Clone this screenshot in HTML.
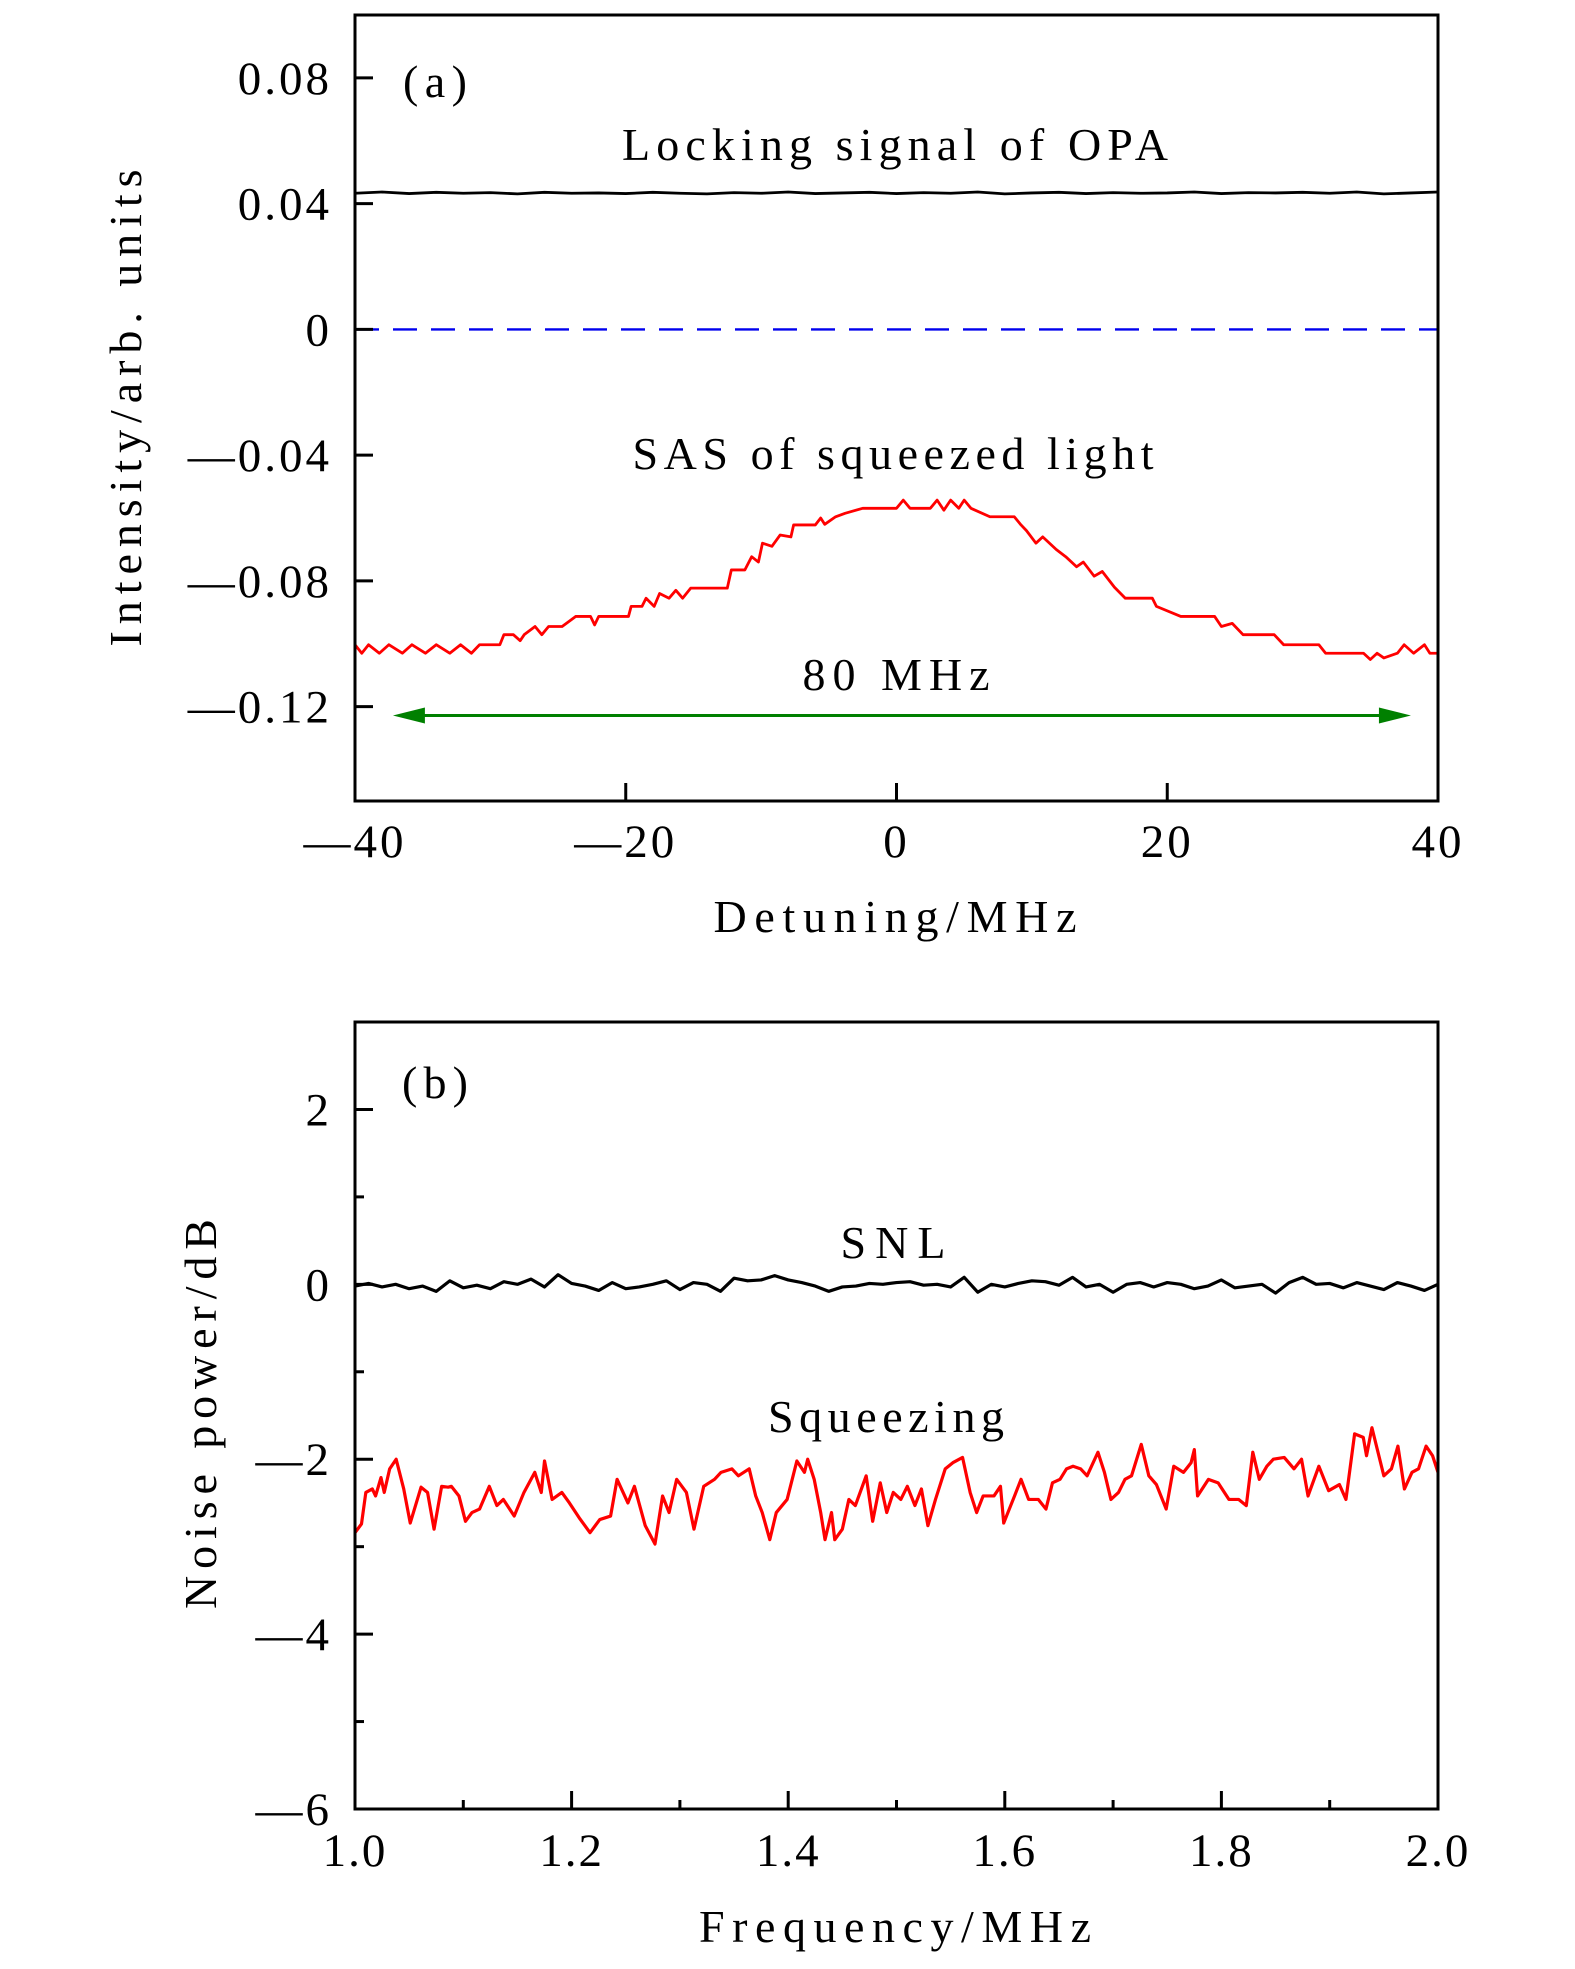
<!DOCTYPE html>
<html><head><meta charset="utf-8"><style>
html,body{margin:0;padding:0;background:#fff;}
svg{display:block;font-family:"Liberation Serif",serif;}
</style></head><body>
<svg id="chart" width="1575" height="1969" viewBox="0 0 1575 1969" xmlns="http://www.w3.org/2000/svg">
<g id="pa"></g>
<g id="pb"></g>
</svg>
<script>
// ---- Panel (a) data ----
const aXTicks = [-40, -20, 0, 20, 40];
const aXTickLabels = ["\u201440", "\u201420", "0", "20", "40"];
const aYTicks = [0.08, 0.04, 0, -0.04, -0.08, -0.12];
const aYTickLabels = ["0.08", "0.04", "0", "\u20140.04", "\u20140.08", "\u20140.12"];
const lockX = [-40,-38,-36,-34,-32,-30,-28,-26,-24,-22,-20,-18,-16,-14,-12,-10,-8,-6,-4,-2,0,2,4,6,8,10,12,14,16,18,20,22,24,26,28,30,32,34,36,38,40];
const lockY = [0.0433,0.0437,0.0432,0.0436,0.0433,0.0435,0.0431,0.0436,0.0433,0.0434,0.0432,0.0436,0.0433,0.0431,0.0435,0.0433,0.0437,0.0432,0.0434,0.0436,0.0432,0.0435,0.0433,0.0437,0.0431,0.0434,0.0436,0.0432,0.0435,0.0433,0.0434,0.0437,0.0432,0.0435,0.0434,0.0436,0.0433,0.0437,0.0431,0.0434,0.0437];
const zeroLineY = 0;
const sasX = [-40,-39.5,-39,-38.2,-37.5,-36.5,-35.8,-34.8,-34,-33,-32.2,-31.4,-30.8,-29.3,-29.0,-28.3,-27.8,-27.5,-26.7,-26.2,-25.7,-24.7,-23.7,-22.6,-22.3,-22,-19.8,-19.6,-18.8,-18.5,-17.9,-17.5,-16.8,-16.3,-15.8,-15.2,-12.5,-12.2,-11.2,-10.7,-10.2,-9.9,-9.2,-8.6,-7.8,-7.6,-6.0,-5.6,-5.3,-4.5,-3.8,-2.5,0,0.5,1.0,2.5,3.0,3.5,4.0,4.6,5.0,5.5,6.9,8.7,9.2,9.6,10.3,10.8,11.8,12.5,13.3,13.8,14.6,15.2,16.1,16.9,18.9,19.2,21.0,23.5,24.0,24.8,25.6,27.9,28.6,31.2,31.7,34.5,35.0,35.5,36.0,37.0,37.5,38.2,39.0,39.4,40];
const sasY = [-0.1003,-0.1030,-0.1003,-0.1030,-0.1003,-0.1030,-0.1003,-0.1030,-0.1003,-0.1030,-0.1003,-0.1030,-0.1003,-0.1003,-0.0971,-0.0971,-0.0990,-0.0971,-0.0945,-0.0971,-0.0945,-0.0945,-0.0913,-0.0913,-0.0940,-0.0913,-0.0913,-0.0881,-0.0881,-0.0855,-0.0881,-0.0840,-0.0855,-0.0830,-0.0855,-0.0823,-0.0823,-0.0765,-0.0765,-0.0723,-0.0740,-0.0680,-0.0690,-0.0654,-0.0660,-0.0622,-0.0622,-0.0600,-0.0620,-0.0596,-0.0585,-0.0569,-0.0569,-0.0543,-0.0569,-0.0569,-0.0543,-0.0575,-0.0543,-0.0569,-0.0543,-0.0569,-0.0596,-0.0596,-0.0622,-0.0640,-0.0680,-0.0660,-0.0700,-0.0723,-0.0755,-0.0740,-0.0785,-0.0770,-0.0820,-0.0855,-0.0855,-0.0881,-0.0913,-0.0913,-0.0945,-0.0935,-0.0971,-0.0971,-0.1003,-0.1003,-0.1030,-0.1030,-0.1050,-0.1030,-0.1045,-0.1030,-0.1003,-0.1030,-0.1003,-0.1030,-0.1030];
const arrowX = [-37.2, 38.0];
const arrowY = -0.1228;

// ---- Panel (b) data ----
const bXTicks = [1.0, 1.2, 1.4, 1.6, 1.8, 2.0];
const bXTickLabels = ["1.0", "1.2", "1.4", "1.6", "1.8", "2.0"];
const bXMinor = [1.1, 1.3, 1.5, 1.7, 1.9];
const bYTicks = [2, 0, -2, -4, -6];
const bYTickLabels = ["2", "0", "\u20142", "\u20144", "\u20146"];
const bYMinor = [1, -1, -3, -5];
const snlX = [1.0,1.0125,1.025,1.0375,1.05,1.0625,1.075,1.0875,1.1,1.1125,1.125,1.1375,1.15,1.1625,1.175,1.1875,1.2,1.2125,1.225,1.2375,1.25,1.2625,1.275,1.2875,1.3,1.3125,1.325,1.3375,1.35,1.3625,1.375,1.3875,1.4,1.4125,1.425,1.4375,1.45,1.4625,1.475,1.4875,1.5,1.5125,1.525,1.5375,1.55,1.5625,1.575,1.5875,1.6,1.6125,1.625,1.6375,1.65,1.6625,1.675,1.6875,1.7,1.7125,1.725,1.7375,1.75,1.7625,1.775,1.7875,1.8,1.8125,1.825,1.8375,1.85,1.8625,1.875,1.8875,1.9,1.9125,1.925,1.9375,1.95,1.9625,1.975,1.9875,2.0];
const snlY = [-0.02,0.01,-0.03,0.0,-0.05,-0.02,-0.08,0.04,-0.04,-0.01,-0.05,0.03,0.0,0.06,-0.03,0.11,0.01,-0.02,-0.07,0.02,-0.05,-0.03,0.0,0.04,-0.06,0.02,0.0,-0.08,0.07,0.04,0.05,0.1,0.05,0.02,-0.02,-0.08,-0.03,-0.02,0.01,0.0,0.02,0.03,-0.01,0.0,-0.03,0.08,-0.09,0.0,-0.03,0.01,0.04,0.03,-0.01,0.08,-0.03,0.0,-0.09,0.0,0.02,-0.03,0.02,0.0,-0.05,-0.02,0.05,-0.04,-0.02,0.0,-0.1,0.02,0.08,0.0,0.01,-0.04,0.02,-0.02,-0.06,0.02,-0.02,-0.07,0.0];
const sqX = [1.000,1.006,1.010,1.016,1.019,1.024,1.027,1.032,1.038,1.045,1.051,1.061,1.067,1.073,1.080,1.086,1.089,1.096,1.102,1.108,1.115,1.124,1.131,1.137,1.147,1.156,1.166,1.172,1.175,1.182,1.191,1.198,1.207,1.217,1.226,1.236,1.242,1.252,1.258,1.268,1.277,1.284,1.290,1.297,1.306,1.313,1.322,1.332,1.338,1.348,1.354,1.364,1.370,1.376,1.383,1.389,1.399,1.408,1.415,1.418,1.424,1.430,1.434,1.440,1.443,1.450,1.456,1.462,1.472,1.478,1.485,1.491,1.497,1.504,1.510,1.517,1.523,1.529,1.536,1.545,1.552,1.561,1.568,1.574,1.580,1.590,1.596,1.599,1.609,1.615,1.622,1.631,1.638,1.644,1.651,1.657,1.663,1.670,1.676,1.686,1.692,1.698,1.705,1.711,1.717,1.726,1.733,1.740,1.749,1.756,1.765,1.772,1.775,1.778,1.788,1.797,1.807,1.816,1.823,1.829,1.835,1.842,1.848,1.858,1.867,1.874,1.880,1.890,1.899,1.909,1.915,1.923,1.931,1.934,1.939,1.944,1.950,1.957,1.963,1.969,1.976,1.982,1.989,1.995,2.000];
const sqY = [-2.84,-2.74,-2.38,-2.34,-2.42,-2.21,-2.38,-2.11,-2.00,-2.34,-2.73,-2.32,-2.38,-2.80,-2.31,-2.32,-2.31,-2.42,-2.71,-2.61,-2.57,-2.31,-2.53,-2.46,-2.65,-2.38,-2.15,-2.38,-2.02,-2.46,-2.38,-2.50,-2.67,-2.84,-2.69,-2.65,-2.23,-2.50,-2.31,-2.76,-2.97,-2.42,-2.61,-2.23,-2.38,-2.80,-2.31,-2.23,-2.15,-2.11,-2.19,-2.11,-2.42,-2.61,-2.92,-2.61,-2.46,-2.02,-2.15,-2.00,-2.23,-2.61,-2.92,-2.61,-2.92,-2.80,-2.46,-2.53,-2.19,-2.71,-2.27,-2.61,-2.38,-2.46,-2.31,-2.53,-2.34,-2.76,-2.46,-2.11,-2.04,-1.98,-2.38,-2.61,-2.42,-2.42,-2.31,-2.73,-2.42,-2.23,-2.46,-2.46,-2.57,-2.27,-2.23,-2.11,-2.08,-2.11,-2.19,-1.92,-2.15,-2.46,-2.38,-2.23,-2.19,-1.83,-2.19,-2.29,-2.57,-2.08,-2.15,-2.04,-1.89,-2.42,-2.23,-2.27,-2.46,-2.46,-2.53,-1.92,-2.23,-2.08,-2.00,-1.98,-2.11,-2.00,-2.42,-2.08,-2.36,-2.29,-2.46,-1.71,-1.75,-1.96,-1.64,-1.89,-2.19,-2.11,-1.85,-2.34,-2.15,-2.11,-1.85,-1.96,-2.15];

const NS = "http://www.w3.org/2000/svg";
function mk(parent, tag, attrs, text){
  const e = document.createElementNS(NS, tag);
  for (const k in attrs) e.setAttribute(k, attrs[k]);
  if (text !== undefined) e.textContent = text;
  parent.appendChild(e);
  return e;
}
function lin(d0,d1,r0,r1){ return v => r0 + (v-d0)/(d1-d0)*(r1-r0); }
function pts(xs, ys, fx, fy){ return xs.map((x,i)=>fx(x).toFixed(2)+","+fy(ys[i]).toFixed(2)).join(" "); }

// ---------- Panel A ----------
const pa = document.getElementById('pa');
const ax = lin(-40, 40, 355, 1438), ay = lin(-0.15, 0.1, 801, 15);
let t;
t = mk(pa,'polyline',{points:pts(lockX,lockY,ax,ay),fill:'none',stroke:'#000','stroke-width':2.8,'stroke-linejoin':'round'});


t = mk(pa,'line',{x1:ax(-40),x2:ax(40),y1:ay(zeroLineY),y2:ay(zeroLineY),stroke:'#0000ee','stroke-width':2.4,'stroke-dasharray':'24 14'});


t = mk(pa,'polyline',{points:pts(sasX,sasY,ax,ay),fill:'none',stroke:'#ff0000','stroke-width':2.8,'stroke-linejoin':'round'});


const axL = ax(arrowX[0]), axR = ax(arrowX[1]), ayA = ay(arrowY);
t = mk(pa,'line',{x1:axL+25,x2:axR-25,y1:ayA,y2:ayA,stroke:'#008000','stroke-width':3});


t = mk(pa,'polygon',{points:`${axL},${ayA} ${axL+32},${ayA-8} ${axL+32},${ayA+8}`,fill:'#008000'});


t = mk(pa,'polygon',{points:`${axR},${ayA} ${axR-32},${ayA-8} ${axR-32},${ayA+8}`,fill:'#008000'});


t = mk(pa,'rect',{x:355,y:15,width:1083,height:786,fill:'none',stroke:'#000','stroke-width':3});


aYTicks.forEach((v,i)=>{
  const y = ay(v);
  const tk = mk(pa,'line',{x1:355,x2:373,y1:y,y2:y,stroke:'#000','stroke-width':3});
  
  
  const lb = mk(pa,'text',{x:332,y:y+16,'text-anchor':'end','font-size':47,'letter-spacing':3},aYTickLabels[i]);
  
  
});
aXTicks.forEach((v,i)=>{
  const x = ax(v);
  const tk = mk(pa,'line',{x1:x,x2:x,y1:801,y2:783,stroke:'#000','stroke-width':3});
  
  
  const lb = mk(pa,'text',{x:x,y:857,'text-anchor':'middle','font-size':47,'letter-spacing':3},aXTickLabels[i]);
  
  
});
function label(parent,name,x,y,txt,len,size,extra){
  const a = Object.assign({x:x,y:y,'text-anchor':'middle','font-size':size||46,textLength:len,lengthAdjust:'spacing'},extra||{});
  const e = mk(parent,'text',a,txt);
  
  
  return e;
}
label(pa,'panel-label-a',435,97,'(a)',64);
label(pa,'locking-signal-label',895,160,'Locking signal of OPA',546);
label(pa,'sas-label',893,469,'SAS of squeezed light',521);
label(pa,'bandwidth-label',896,690,'80 MHz',187);
label(pa,'x-axis-title-a',895,932,'Detuning/MHz',363);
label(pa,'y-axis-title-a',0,0,'Intensity/arb. units',477,46,{transform:'translate(141,408) rotate(-90)'});

// ---------- Panel B ----------
const pb = document.getElementById('pb');
const bx = lin(1.0, 2.0, 355, 1438), by = lin(-6, 3, 1809, 1022);
t = mk(pb,'polyline',{points:pts(snlX,snlY,bx,by),fill:'none',stroke:'#000','stroke-width':3.2,'stroke-linejoin':'round'});


t = mk(pb,'polyline',{points:pts(sqX,sqY,bx,by),fill:'none',stroke:'#ff0000','stroke-width':3.2,'stroke-linejoin':'round'});


t = mk(pb,'rect',{x:355,y:1022,width:1083,height:787,fill:'none',stroke:'#000','stroke-width':3});


bYTicks.forEach((v,i)=>{
  const y = by(v);
  const tk = mk(pb,'line',{x1:355,x2:373,y1:y,y2:y,stroke:'#000','stroke-width':3});
  
  
  const lb = mk(pb,'text',{x:332,y:y+16,'text-anchor':'end','font-size':47,'letter-spacing':3},bYTickLabels[i]);
  
  
});
bYMinor.forEach(v=>{
  const y = by(v);
  const tk = mk(pb,'line',{x1:355,x2:364,y1:y,y2:y,stroke:'#000','stroke-width':3});
  
  
});
bXTicks.forEach((v,i)=>{
  const x = bx(v);
  const tk = mk(pb,'line',{x1:x,x2:x,y1:1809,y2:1791,stroke:'#000','stroke-width':3});
  
  
  const lb = mk(pb,'text',{x:x,y:1866,'text-anchor':'middle','font-size':47,'letter-spacing':2},bXTickLabels[i]);
  
  
});
bXMinor.forEach(v=>{
  const x = bx(v);
  const tk = mk(pb,'line',{x1:x,x2:x,y1:1809,y2:1800,stroke:'#000','stroke-width':3});
  
  
});
label(pb,'panel-label-b',435,1098,'(b)',66);
label(pb,'snl-label',893,1258,'SNL',105);
label(pb,'squeezing-label',886,1432,'Squeezing',236);
label(pb,'x-axis-title-b',895,1942,'Frequency/MHz',392);
label(pb,'y-axis-title-b',0,0,'Noise power/dB',390,46,{transform:'translate(216,1414) rotate(-90)'});
</script>
</body></html>
